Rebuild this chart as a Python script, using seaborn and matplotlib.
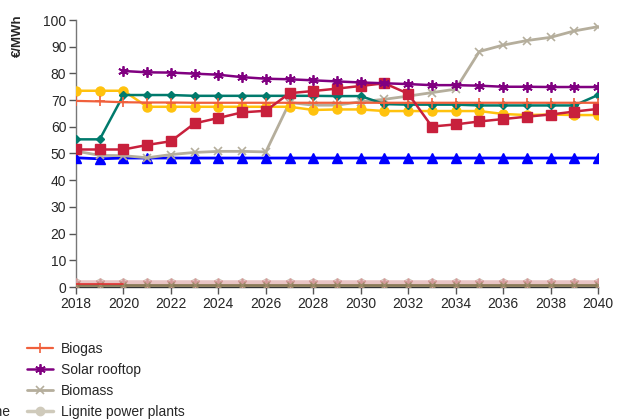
import numpy as np
import matplotlib
matplotlib.use("Agg")
import matplotlib.pyplot as plt
import seaborn as sns

years = [2018, 2019, 2020, 2021, 2022, 2023, 2024, 2025, 2026, 2027, 2028, 2029,
         2030, 2031, 2032, 2033, 2034, 2035, 2036, 2037, 2038, 2039, 2040]
nan = np.nan
biogas = [69.7, 69.5, 69.2, 69.1, 69.1, 69.0, 69.0, 69.0, 69.0, 69.0, 69.0, 69.0,
          69.0, 69.0, 69.0, 69.0, 69.0, 69.0, 69.0, 69.0, 69.0, 69.0, 69.0]
solar_rooftop = [nan, nan, 80.9, 80.4, 80.3, 79.9, 79.5, 78.6, 78.0, 77.8, 77.4, 77.0,
                 76.6, 76.3, 76.0, 75.6, 75.6, 75.4, 75.0, 75.0, 74.9, 74.9, 74.9]
biomass = [50.9, 49.3, 49.2, 48.4, 49.6, 50.4, 50.8, 50.8, 50.6, 69.1, 68.1, 68.1,
           69.4, 70.3, 71.5, 72.8, 74.1, 88.2, 90.6, 92.3, 93.5, 95.9, 97.5]
lignite = [1.5] * 23
teal_series = [55.3, 55.3, 71.9, 71.9, 71.9, 71.6, 71.6, 71.6, 71.6, 71.6, 71.6, 71.5,
               71.5, 68.5, 68.3, 68.3, 68.3, 68.0, 68.0, 68.0, 68.0, 68.0, 71.9]
yellow_series = [73.5, 73.5, 73.5, 67.5, 67.5, 67.5, 67.5, 67.5, 67.5, 67.5, 66.3, 66.5,
                 66.5, 65.9, 65.9, 65.9, 65.9, 65.9, 64.8, 64.4, 64.6, 64.4, 64.4]
crimson_series = [51.5, 51.5, 51.5, 53.2, 54.6, 61.3, 63.3, 65.4, 66.0, 72.6, 73.4, 74.3,
                  75.3, 76.3, 72.4, 60.1, 60.9, 62.0, 62.9, 63.8, 64.6, 65.7, 66.7]
blue_series = [48.4, 48.0, 48.3, 48.3, 48.3, 48.3, 48.3, 48.3, 48.3, 48.3, 48.3, 48.3,
               48.3, 48.3, 48.3, 48.3, 48.3, 48.3, 48.3, 48.3, 48.3, 48.3, 48.3]
pink_series = [1.6] * 23
olive_series = [0.6] * 23
red_low_series = [1.1, 1.1, 1.1] + [nan] * 20

right_labels = ["Biogas", "Solar rooftop", "Biomass", "Lignite power plants"]
left_labels = ["", "", "", "Gas turbine"]

sns.set_style("white")
plt.rcParams['font.family'] = ['Liberation Sans', 'DejaVu Sans']

fig = plt.figure(figsize=(6.17, 4.19), dpi=100)
ax = fig.add_axes([76 / 617, 1 - 287 / 419, (598 - 76) / 617, (287 - 20) / 419])

def draw(vals, color, marker, ms, lw=1.6, mec=None, mew=1.0, z=2):
    sns.lineplot(x=years, y=vals, ax=ax, color=color, marker=marker, markersize=ms,
                 linewidth=lw, markeredgecolor=mec if mec else color, markeredgewidth=mew,
                 zorder=z, legend=False)
    return ax.get_lines()[-1]

asterisk = (6, 2, 0)
h_light = draw(lignite, '#cfcabb', 'o', 6, lw=2.5, z=2)
h_pink = draw(pink_series, '#e8c4c4', asterisk, 7, lw=4, mec='#d49a9a', mew=1.2, z=3)
h_olive = draw(olive_series, '#8a7a58', 'x', 5, lw=2, mec='#9a8a68', z=3)
draw(red_low_series, '#e03030', None, 0, lw=1.2, z=3)

h_blue = draw(blue_series, '#0000ff', '^', 6.5, lw=2, z=4)
h_biomass = draw(biomass, '#b5ae9c', 'x', 6, lw=2, mew=1.2, z=4)
h_crimson = draw(crimson_series, '#c8203c', 's', 6.5, lw=1.8, z=5)
h_yellow = draw(yellow_series, '#ffc20e', 'o', 6.5, lw=1.8, z=4)
h_teal = draw(teal_series, '#007a6c', 'D', 4.5, lw=1.8, z=4)
h_biogas = draw(biogas, '#f0603c', '+', 7, lw=1.6, mew=1.2, z=4)
h_solar = draw(solar_rooftop, '#800080', asterisk, 7.5, lw=1.8, mew=1.3, z=5)

ax.set_xlim(2018, 2040)
ax.set_ylim(0, 100)
ax.set_xticks(years[::2])
ax.set_xticklabels([str(y) for y in years[::2]])
ax.set_yticks(range(0, 101, 10))
ax.tick_params(axis='both', labelsize=10, length=5, width=1, color='#555555',
               direction='out', pad=2, bottom=True, left=True)
for s in ['top', 'right']:
    ax.spines[s].set_visible(False)
ax.spines['left'].set_color('#777777')
ax.spines['bottom'].set_color('#333333')
ax.spines['left'].set_linewidth(1)
ax.spines['bottom'].set_linewidth(1)
ax.set_xlabel('')
ax.set_ylabel('')

fig.text(18 / 617, 1 - 36 / 419, '€/MWh', rotation=90, ha='center', va='center',
         fontsize=9.5, fontweight='bold')

leg_top = 1 - 342 / 419
leg1 = fig.legend([h_biogas, h_solar, h_biomass, h_light], right_labels, loc='upper left',
                  bbox_to_anchor=(27 / 617, leg_top), borderpad=0, borderaxespad=0,
                  frameon=False, fontsize=10, handlelength=1.9, handletextpad=0.55,
                  labelspacing=0.5)
leg2 = fig.legend([h_blue, h_yellow, h_teal, h_crimson], left_labels, loc='upper right',
                  bbox_to_anchor=(10 / 617, leg_top), borderpad=0, borderaxespad=0,
                  frameon=False, fontsize=10, handlelength=1.9, handletextpad=0.55,
                  labelspacing=0.5)

fig.savefig('out.png', dpi=100)
